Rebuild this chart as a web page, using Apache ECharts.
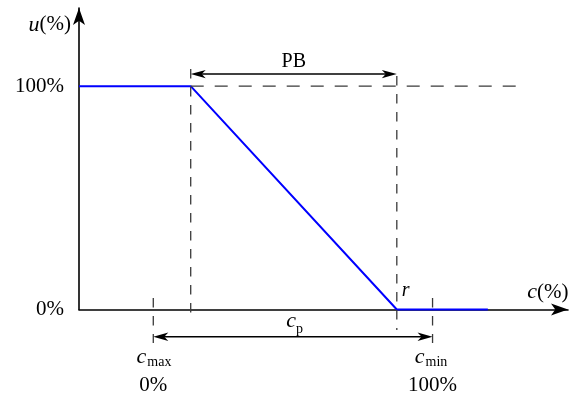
<!DOCTYPE html>
<html><head><meta charset="utf-8">
<script src="https://cdn.jsdelivr.net/npm/echarts@6/dist/echarts.min.js"></script>
<style>html,body{margin:0;padding:0;background:#fff}#c{width:572px;height:396px}</style>
</head><body><div id="c"></div>
<script>
// Controller characteristic: output u(%) versus input c(%)
const uX = [-26.6, 13.4, 87.2, 119.8];   // c values of the blue characteristic's vertices
const uY = [100, 100, 0, 0];             // u values (%)
const yTickValues = [0, 100];
const yTickLabels = ['0%', '100%'];
const cMax = 0, cMin = 100;              // c_max / c_min positions
const cTickLabels = ['0%', '100%'];
const pbStart = 13.4, pbEnd = 87.2;      // proportional band
const xRange = [-26.6, 148.5];
const yRange = [0, 135];

const FONT = '"Liberation Serif","Times New Roman",serif';
const chart = echarts.init(document.getElementById('c'), null, {renderer: 'canvas'});

function renderAnno(params, api) {
  const P = (x, y) => api.coord([x, y]);
  const ch = [];
  const vdash = {stroke: '#3a3a3a', lineWidth: 1.3, lineDash: [9.5, 8.5]};
  const hdash = {stroke: '#3a3a3a', lineWidth: 1.3, lineDash: [13, 11]};
  function dline(x1, y1, x2, y2, st) {
    const a = P(x1, y1), b = P(x2, y2);
    ch.push({type: 'line', shape: {x1: a[0], y1: a[1], x2: b[0], y2: b[1]}, style: st});
  }
  function head(t, d) {
    const L = 15, W = 4.2, N = 4;
    const nx = -d[1], ny = d[0];
    ch.push({type: 'polygon', shape: {points: [
      [t[0], t[1]],
      [t[0] - d[0] * L + nx * W, t[1] - d[1] * L + ny * W],
      [t[0] - d[0] * (L - N), t[1] - d[1] * (L - N)],
      [t[0] - d[0] * L - nx * W, t[1] - d[1] * L - ny * W]
    ]}, style: {fill: '#000'}});
  }
  function darrow(x1, x2, y) {
    const a = P(x1, y), b = P(x2, y);
    ch.push({type: 'line', shape: {x1: a[0] + 8, y1: a[1], x2: b[0] - 8, y2: b[1]}, style: {stroke: '#000', lineWidth: 1.5}});
    head(a, [-1, 0]); head(b, [1, 0]);
  }
  function text(x, y, dx, dy, str, st) {
    const p = P(x, y);
    ch.push({type: 'text', x: p[0] + dx, y: p[1] + dy, style: Object.assign({
      text: str, fill: '#000', fontFamily: FONT, fontSize: 21, align: 'center', verticalAlign: 'middle'
    }, st || {})});
  }
  // dashed guide lines
  dline(pbStart, 107.7, pbStart, -3.8, vdash);
  dline(pbEnd, 104.5, pbEnd, -9.2, vdash);
  dline(pbStart, 100, 131.6, 100, hdash);
  dline(cMax, 5.1, cMax, -15, vdash);
  dline(cMin, 5.1, cMin, -15, vdash);
  // dimension arrows
  darrow(pbStart, pbEnd, 105.4);
  darrow(cMax, cMin, -12.2);
  // labels
  const mid = (pbStart + pbEnd) / 2;
  text(mid, 105.4, 0, -12.5, 'PB', {fontSize: 20});
  const cm = (cMax + cMin) / 2;
  text(cm, -12.2, 3, -15.5, 'c', {align: 'right', fontStyle: 'italic', fontSize: 22});
  text(cm, -12.2, 3, -7, 'p', {align: 'left', fontSize: 14});
  text(xRange[0], 127.4, -8, 0, '{i|u}(%)', {align: 'right', fontSize: 21, rich: {i: {fontStyle: 'italic', fontFamily: FONT, fontSize: 22}}});
  text(141.3, 0, 0, -17.5, '{i|c}(%)', {fontSize: 21, rich: {i: {fontStyle: 'italic', fontFamily: FONT, fontSize: 22}}});
  text(pbEnd, 0, 5, -18.5, 'r', {align: 'left', fontStyle: 'italic', fontSize: 20});
  text(cMax, 0, -7, 47.5, 'c', {align: 'right', fontStyle: 'italic', fontSize: 22});
  text(cMax, 0, -6, 52.5, 'max', {align: 'left', fontSize: 14});
  text(cMax, 0, 0, 75.5, cTickLabels[0]);
  text(cMin, 0, -8, 47.5, 'c', {align: 'right', fontStyle: 'italic', fontSize: 22});
  text(cMin, 0, -7, 53, 'min', {align: 'left', fontSize: 14});
  text(cMin, 0, 0, 75.5, cTickLabels[1]);
  return {type: 'group', children: ch};
}

chart.setOption({
  animation: false,
  backgroundColor: '#fff',
  grid: {left: 79, right: 4, top: 8, bottom: 86.5, containLabel: false},
  xAxis: {
    type: 'value', min: xRange[0], max: xRange[1],
    axisLine: {onZero: false, lineStyle: {color: '#000', width: 1.6}, symbol: ['none', 'arrow'], symbolSize: [9, 17]},
    axisTick: {show: false}, axisLabel: {show: false}, splitLine: {show: false}
  },
  yAxis: {
    type: 'value', min: yRange[0], max: yRange[1], interval: 100,
    axisLine: {show: true, onZero: false, lineStyle: {color: '#000', width: 1.6}, symbol: ['none', 'arrow'], symbolSize: [9, 17]},
    axisTick: {show: false}, splitLine: {show: false},
    axisLabel: {
      margin: 15, color: '#000', fontFamily: FONT, fontSize: 21,
      formatter: v => { const i = yTickValues.indexOf(v); return i >= 0 ? yTickLabels[i] : ''; }
    }
  },
  series: [
    {
      type: 'line', data: uX.map((x, i) => [x, uY[i]]), showSymbol: false, symbol: 'none',
      lineStyle: {color: '#0000ff', width: 2}, z: 3, clip: false
    },
    {
      type: 'custom', data: [[0, 0]], renderItem: renderAnno, clip: false, z: 4, silent: true
    }
  ]
});
</script>
</body></html>
